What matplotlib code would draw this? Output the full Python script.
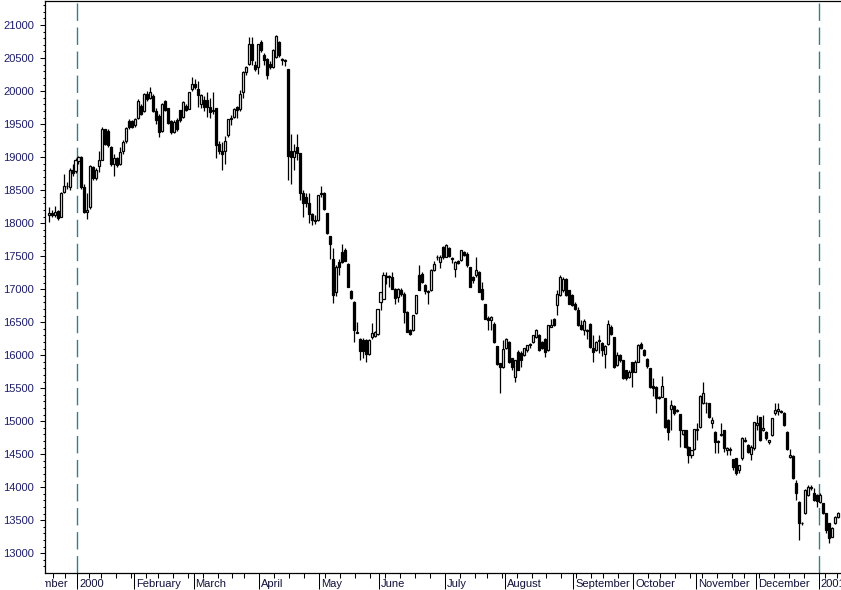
import numpy as np
import pandas as pd
import matplotlib
matplotlib.use("Agg")
import matplotlib.pyplot as plt
from matplotlib.transforms import Bbox, TransformedBbox, blended_transform_factory
from matplotlib.ticker import FixedLocator, NullFormatter

plt.rcParams['font.family'] = ['Liberation Sans', 'DejaVu Sans']
plt.rcParams['lines.scale_dashes'] = False

# ---------------- data ----------------
# trading calendar (Tokyo), closed weekdays
holidays = ['1999-12-23', '1999-12-31', '2000-01-03', '2000-01-10', '2000-02-11',
            '2000-03-20', '2000-05-03', '2000-05-04', '2000-05-05', '2000-07-20',
            '2000-09-15', '2000-10-09', '2000-11-03', '2000-11-23',
            '2001-01-01', '2001-01-02', '2001-01-03', '2001-01-08']
first_candle = '1999-12-16'

opens = [
    # Dec 1999
    18120, 18150, 18130, 18180, 18100, 18470, 18570, 18550, 18800, 18790,
    # Jan 2000
    18940, 19000, 18550, 18170, 18240, 18850, 18680, 18870, 18960, 19420,
    19400, 19150, 18900, 18980, 18900, 19100, 19250, 19540, 19550,
    # Feb
    19480, 19590, 19780, 19700, 19960, 19900, 19920, 19700, 19620, 19400,
    19850, 19740, 19540, 19380, 19560, 19710, 19610, 19780, 19735, 20035,
    # Mar
    20110, 20035, 19810, 19870, 19860, 19760, 19700, 19750, 19200, 19100,
    19100, 19330, 19580, 19610, 19760, 19730, 19985, 20290, 20415, 20720,
    20390, 20365,
    # Apr
    20740, 20540, 20490, 20415, 20365, 20515, 20740, 20480, 20470, 20330,
    19100, 19000, 19150, 19060, 18460, 18400, 18310, 18140, 18040, 18050,
    # May
    18450, 18450, 18150, 17800, 17460, 16960, 17410, 17563, 17590, 17376,
    16973, 16807, 16340, 16252, 16230, 16227, 16025, 16277, 16290, 16328,
    # Jun
    16800, 16857, 17190, 17200, 17185, 17008, 16887, 16990, 16933, 16655,
    16378, 16378, 16645, 17220, 17235, 17060, 16960, 16983, 17286, 17480,
    17412, 17640,
    # Jul
    17487, 17620, 17470, 17311, 17420, 17437, 17563, 17538, 17336, 17185,
    17210, 17260, 17000, 16771, 16570, 16530, 16479, 16136, 15874, 15823,
    # Aug
    16101, 16201, 15950, 15672, 16050, 16040, 16000, 16076, 16160, 16201,
    16277, 16302, 16201, 16252, 16076, 16430, 16555, 16756, 16907, 16983,
    17160, 16983, 16907,
    # Sep
    16781, 16680, 16453, 16378, 16380, 16478, 16115, 16075, 16220, 16186,
    16025, 16166, 16428, 16277, 15848, 16000, 15924, 15773, 15672, 15898,
    # Oct
    15747, 15898, 16166, 16085, 15949, 15798, 15530, 15520, 15370, 15370,
    15344, 15016, 15190, 15228, 15170, 15107, 14804, 14865, 14613, 14487,
    14572,
    # Nov
    14870, 14915, 15268, 15270, 15268, 14966, 14840, 14700, 14790, 14865,
    14560, 14580, 14421, 14436, 14260, 14436, 14700, 14638, 14510, 14587,
    # Dec
    14940, 15066, 14865, 14840, 14688, 14790, 15117, 15160, 15150, 15117,
    14840, 14460, 14471, 14068, 13780, 13460, 13604, 13881, 13990, 13907,
    13882,
    # Jan 2001
    13780, 13755, 13604, 13453, 13251, 13453, 13553,
]

highs = [
    18250, 18200, 18260, 18200, 18470, 18750, 18620, 18830, 18890, 18980,
    19020, 19010, 18590, 18450, 18880, 18870, 18830, 19100, 19450, 19430,
    19420, 19170, 19050, 19000, 19150, 19260, 19460, 19580, 19560,
    19600, 19880, 19800, 19970, 20000, 20060, 19950, 19740, 19650, 19820,
    19870, 19750, 19560, 19560, 19600, 19720, 19850, 19800, 19990, 20210,
    20190, 20160, 19950, 19920, 19980, 19900, 19990, 19750, 19250, 19230,
    19320, 19580, 19640, 19750, 19780, 20010, 20300, 20380, 20815, 20815,
    20450, 20720,
    20770, 20570, 20500, 20450, 20640, 20850, 20760, 20500, 20480, 20330,
    19350, 19200, 19350, 19060, 18500, 18450, 18450, 18160, 18120, 18430,
    18560, 18470, 18160, 17810, 17620, 17360, 17450, 17690, 17620, 17400,
    16990, 16820, 16500, 16260, 16260, 16240, 16240, 16490, 16360, 16706,
    16960, 17260, 17260, 17210, 17260, 17020, 17010, 17010, 16950, 16670,
    16390, 16605, 16910, 17371, 17260, 17080, 16990, 17300, 17430, 17510,
    17520, 17660,
    17680, 17640, 17480, 17420, 17440, 17600, 17580, 17560, 17340, 17200,
    17487, 17270, 17109, 16780, 16600, 16600, 16500, 16140, 15880, 16227,
    16260, 16210, 15960, 15930, 16075, 16060, 16110, 16160, 16180, 16310,
    16403, 16320, 16210, 16260, 16460, 16555, 16560, 16980, 17210, 17180,
    17170, 16990, 16920,
    16800, 16730, 16530, 16550, 16400, 16490, 16302, 16210, 16302, 16200,
    16150, 16530, 16450, 16280, 16050, 16010, 15930, 15773, 15773, 15900,
    15920, 16176, 16200, 16100, 15960, 15810, 15650, 15530, 15380, 15690,
    15350, 15030, 15320, 15243, 15180, 15110, 14870, 14865, 14620, 14570,
    14880,
    14965, 15400, 15596, 15290, 15280, 15066, 14850, 14710, 14966, 14870,
    14612, 14612, 14430, 14440, 14340, 14764, 14764, 14650, 14640, 14991,
    15092, 15070, 15092, 14850, 14720, 15050, 15268, 15268, 15170, 15140,
    14850, 14572, 14480, 14108, 13790, 13470, 13970, 14033, 14033, 13982,
    13900,
    13907, 13760, 13610, 13460, 13390, 13560, 13630,
]

lows = [
    18010, 18100, 18100, 18050, 18090, 18450, 18520, 18500, 18720, 18760,
    18900, 18520, 18150, 18070, 18220, 18650, 18650, 18780, 18950, 19180,
    19150, 18870, 18720, 18850, 18880, 19050, 19220, 19420, 19440,
    19450, 19580, 19640, 19690, 19850, 19880, 19680, 19500, 19300, 19380,
    19700, 19500, 19350, 19370, 19400, 19530, 19600, 19700, 19730, 20000,
    20030, 19760, 19740, 19700, 19610, 19600, 19650, 18980, 19050, 18800,
    18900, 19300, 19480, 19600, 19600, 19700, 19900, 20250, 20400, 20400,
    20300, 20260,
    20590, 20400, 20190, 20330, 20350, 20500, 20520, 20400, 20380, 18650,
    18600, 18800, 18950, 18350, 18090, 18250, 18000, 17970, 17980, 18030,
    18400, 18200, 17840, 17460, 16790, 16900, 17210, 17400, 17420, 17033,
    16850, 16200, 16330, 15925, 15950, 15900, 16000, 16250, 16270, 16300,
    16690, 16850, 17080, 17030, 17000, 16780, 16810, 16900, 16490, 16350,
    16300, 16360, 16630, 16980, 17100, 16930, 16780, 16970, 17270, 17440,
    17320, 17460,
    17480, 17480, 17400, 17185, 17380, 17430, 17500, 17340, 17034, 17100,
    17185, 16958, 16832, 16554, 16380, 16380, 16180, 15849, 15420, 15800,
    16090, 15880, 15780, 15596, 15770, 15823, 15980, 16050, 16101, 16190,
    16260, 16060, 16090, 15975, 16060, 16420, 16440, 16605, 16900, 16950,
    16900, 16770, 16740,
    16690, 16440, 16380, 16300, 16250, 16110, 15900, 16060, 16030, 15990,
    15798, 16150, 16310, 15810, 15840, 15900, 15640, 15630, 15660, 15520,
    15740, 15890, 16100, 15990, 15798, 15510, 15380, 15120, 15330, 15360,
    14900, 14713, 14870, 15100, 15140, 14613, 14790, 14600, 14360, 14440,
    14560,
    14714, 14900, 15260, 15120, 15050, 14890, 14512, 14512, 14780, 14537,
    14486, 14486, 14260, 14185, 14210, 14410, 14680, 14520, 14410, 14570,
    14865, 14700, 14850, 14720, 14660, 14780, 15100, 15100, 15117, 14930,
    14560, 14435, 14120, 13806, 13200, 13430, 13590, 13870, 13960, 13790,
    13705,
    13760, 13600, 13300, 13150, 13240, 13440, 13540,
]

closes = [
    18160, 18130, 18170, 18080, 18460, 18570, 18560, 18800, 18760, 18950,
    19000, 18540, 18170, 18200, 18860, 18680, 18800, 18960, 19420, 19200,
    19180, 18890, 18980, 18880, 19080, 19230, 19440, 19450, 19460,
    19580, 19850, 19660, 19950, 19880, 19990, 19700, 19560, 19380, 19800,
    19720, 19520, 19380, 19530, 19420, 19560, 19835, 19720, 19985, 20110,
    20060, 19935, 19935, 19760, 19760, 19680, 19720, 19180, 19100, 19050,
    19250, 19580, 19600, 19730, 19710, 19960, 20290, 20360, 20720, 20465,
    20340, 20720,
    20620, 20465, 20240, 20365, 20620, 20840, 20540, 20465, 20460, 19010,
    19000, 19100, 19060, 18460, 18300, 18300, 18140, 18050, 18030, 18420,
    18440, 18210, 17850, 17690, 16910, 17340, 17336, 17412, 17430, 17040,
    16860, 16378, 16345, 16065, 16070, 16025, 16227, 16338, 16350, 16706,
    16958, 17210, 17200, 17190, 17008, 16872, 16998, 16920, 16655, 16353,
    16328, 16605, 16907, 16990, 17109, 16973, 16973, 17286, 17376, 17487,
    17487, 17480,
    17665, 17500, 17462, 17412, 17400, 17588, 17513, 17362, 17040, 17134,
    17286, 16958, 16850, 16554, 16530, 16580, 16201, 15860, 15823, 16100,
    16252, 15899, 15823, 15925, 15780, 15930, 16101, 16151, 16170, 16302,
    16378, 16076, 16101, 16050, 16453, 16453, 16453, 16933, 17185, 17160,
    16907, 16782, 16756,
    16706, 16453, 16403, 16519, 16370, 16126, 16050, 16201, 16226, 16075,
    16136, 16468, 16327, 15823, 16000, 15924, 15647, 15647, 15747, 15747,
    15898, 16151, 16115, 16000, 15833, 15520, 15510, 15344, 15344, 15530,
    14915, 14840, 15240, 15117, 15150, 14865, 14865, 14613, 14487, 14560,
    14874,
    14874, 15380, 15420, 15268, 15066, 15016, 14688, 14690, 14800, 14587,
    14587, 14560, 14310, 14210, 14335, 14739, 14710, 14537, 14613, 14991,
    14966, 14714, 14890, 14739, 14714, 15041, 15167, 15180, 15140, 14940,
    14572, 14486, 14134, 13917, 13453, 13453, 13957, 14008, 14000, 13806,
    13785,
    13882, 13614, 13352, 13226, 13377, 13553, 13604,
]

month_names = {1: None, 2: 'February', 3: 'March', 4: 'April', 5: 'May', 6: 'June',
               7: 'July', 8: 'August', 9: 'September', 10: 'October',
               11: 'November', 12: 'December'}
y_ticks = list(range(13000, 21001, 500))

# ---------------- calendar ----------------
hol = pd.to_datetime(holidays)
alldays = pd.bdate_range('1999-12-01', '2001-01-20')
alldays = alldays[~alldays.isin(hol)]
n = len(closes)
start_pos = int(np.where(alldays == pd.Timestamp(first_candle))[0][0])
pos = np.arange(start_pos, start_pos + n)
jan4 = int(np.where(alldays == pd.Timestamp('2000-01-04'))[0][0])

o = np.array(opens, float); h = np.array(highs, float)
l = np.array(lows, float); c = np.array(closes, float)

# ---------------- figure ----------------
W, H = 841, 590
fig = plt.figure(figsize=(W / 100, H / 100), dpi=100)
ax = fig.add_axes([45 / W, 17 / H, 1 - 45 / W, 1 - 17 / H - 0.6 / H])
ax.set_facecolor('white')

# wicks
ax.vlines(pos, l, h, color='black', lw=0.9, zorder=2)
# bodies
up = c >= o
bottom = np.minimum(o, c)
height = np.maximum(np.abs(c - o), 8)
ax.bar(pos[up], height[up], bottom=bottom[up], width=0.68, facecolor='white',
       edgecolor='black', linewidth=0.9, zorder=3)
ax.bar(pos[~up], height[~up], bottom=bottom[~up], width=0.68, facecolor='black',
       edgecolor='black', linewidth=0.9, zorder=3)

# year separators
for yr in [2000, 2001]:
    yd = [i for i, d in enumerate(alldays) if d.year == yr][0]
    ax.axvline(yd - 0.5, color='#348080', lw=1.0, ls=(0, (12.5, 4.8)), zorder=1)

# spines
ax.spines['right'].set_visible(False)
for s in ['left', 'bottom', 'top']:
    ax.spines[s].set_linewidth(0.9)

# y axis
ax.set_yticks(y_ticks)
ax.set_yticklabels([str(v) for v in y_ticks])
ax.yaxis.set_minor_locator(FixedLocator(list(range(12800, 21400, 100))))
ax.tick_params(axis='y', which='major', length=3.5, width=0.75, pad=4.5,
               labelsize=8, labelcolor='#1c1c6a', color='black')
ax.tick_params(axis='y', which='minor', length=1.8, width=0.75, color='black')

# x axis: month starts (major) and week starts (minor)
month_start = []
week_start = []
prev = None
for i, d in enumerate(alldays):
    if prev is None or d.month != prev.month:
        month_start.append(i)
    if prev is None or d.isocalendar()[1] != prev.isocalendar()[1]:
        week_start.append(i)
    prev = d
major_x = [i - 0.5 for i in month_start]
minor_x = [i - 0.5 for i in week_start if i not in month_start]
ax.set_xticks(major_x)
ax.set_xticklabels([])
ax.xaxis.set_minor_locator(FixedLocator(minor_x))
ax.xaxis.set_minor_formatter(NullFormatter())
ax.tick_params(axis='x', which='major', length=11.5, width=0.75, color='black')
ax.tick_params(axis='x', which='minor', length=3.6, width=0.75, color='black')

# limits (after ticks so they are not expanded)
ax.set_xlim(jan4 - 11.2, jan4 + 255.0)
ax.set_ylim(12700, 21371)

trans = blended_transform_factory(ax.transData, fig.transFigure)
clip = TransformedBbox(Bbox([[45 / W, 0], [1, 1]]), fig.transFigure)
for i in month_start:
    d = alldays[i]
    lab = str(d.year) if d.month == 1 else month_names[d.month]
    t = fig.text(i - 0.5 + 0.65, 3.2 / H, lab, transform=trans, ha='left',
                 va='baseline', fontsize=8, color='#10103a')
    t.set_clip_on(True)
    t.set_clip_box(clip)

fig.savefig('out.png', dpi=100, facecolor='white')
